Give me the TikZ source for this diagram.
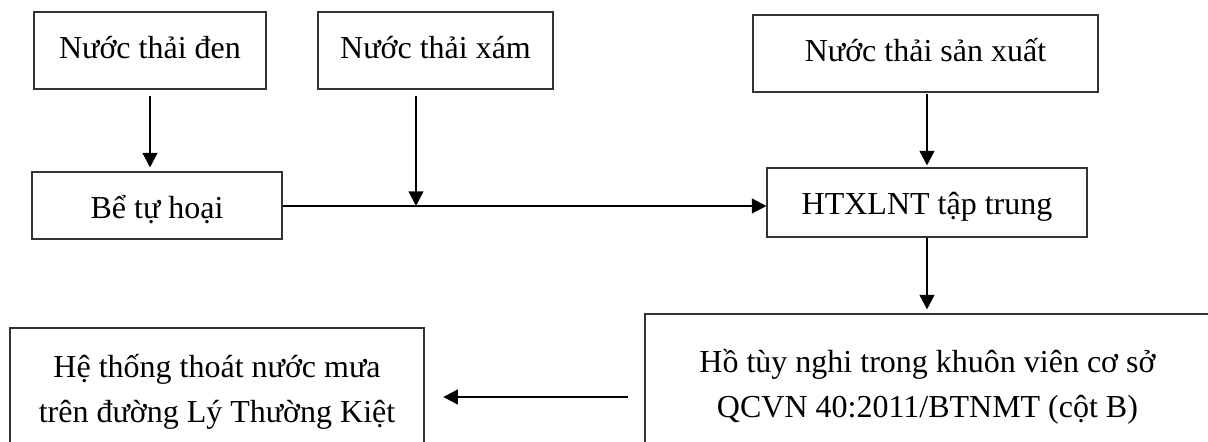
\documentclass[tikz,border=0pt]{standalone}
\usepackage{fontspec}
\setmainfont{Liberation Serif}
\usetikzlibrary{arrows.meta}
\begin{document}
\begin{tikzpicture}[x=0.75pt,y=-0.75pt,
  every node/.style={font=\fontsize{24}{33.75}\selectfont},
  box/.style={draw=black!80,line width=0.8pt,inner sep=0pt,align=center},
  oneline/.style={text height=18pt,text depth=5.25pt},
  flow/.style={line width=1.8pt,-{Triangle[length=11pt,width=11pt]}}]
\def\ls{\rule[-9pt]{0pt}{33.75pt}}
\useasboundingbox (0,0) rectangle (1208,442);
\clip (0,0) rectangle (1208,442);
% sources
\node[box,oneline,minimum width=232*0.75pt,minimum height=77*0.75pt] (den) at (150,50.5) {Nước thải đen};
\node[box,oneline,minimum width=235*0.75pt,minimum height=77*0.75pt] (xam) at (435.5,50.5) {Nước thải xám};
\node[box,oneline,minimum width=345*0.75pt,minimum height=77*0.75pt] (sx) at (925.5,53.5) {Nước thải sản xuất};
% treatment
\node[box,text height=22pt,text depth=1.75pt,minimum width=250*0.75pt,minimum height=67*0.75pt] (tuhoai) at (157,205.5) {Bể tự hoại};
\node[box,text height=21pt,text depth=2.25pt,minimum width=320*0.75pt,minimum height=69*0.75pt] (ht) at (927,202.5) {HTXLNT tập trung};
% outlets
\node[box,minimum width=565*0.75pt,minimum height=140*0.75pt] (ho) at (927.5,384) {\ls Hồ tùy nghi trong khuôn viên cơ sở\\\ls QCVN 40:2011/BTNMT (cột B)};
\node[box,minimum width=414*0.75pt,minimum height=122*0.75pt] (mua) at (217,389) {\ls Hệ thống thoát nước mưa\\\ls trên đường Lý Thường Kiệt};
% connectors
\coordinate (j) at (416,206);
\coordinate (r) at (0,397);
\draw[flow,shorten <=4.5pt,shorten >=3pt] (den.south) -- (den.south |- tuhoai.north);
\draw[flow,shorten <=4.5pt] (j |- xam.south) -- (j);
\draw[flow] (tuhoai.east |- j) -- (ht.west |- j);
\draw[flow,shorten <=1pt,shorten >=1.5pt] (ht.north |- sx.south) -- (ht.north);
\draw[flow,shorten >=3pt] (ht.south) -- (ht.south |- ho.north);
\draw[flow,shorten <=12pt,shorten >=14pt] (ho.west |- r) -- (mua.east |- r);
\end{tikzpicture}
\end{document}
